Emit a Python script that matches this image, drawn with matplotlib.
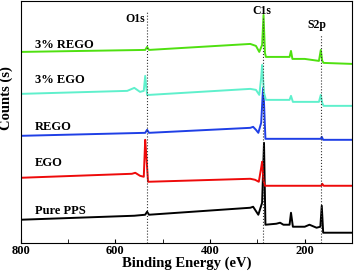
import matplotlib
matplotlib.use('Agg')
import matplotlib.pyplot as plt

plt.rcParams['font.family'] = ['Liberation Serif', 'DejaVu Serif']
plt.rcParams['font.weight'] = 'bold'

# survey spectra (energy in eV, counts in arbitrary offset units)
pps_e = [800, 560, 537, 533, 529, 315, 309, 298, 290, 286, 283, 260, 252, 245, 232, 229, 225, 200, 190, 175, 167, 164, 161, 100]
pps_c = [23, 27, 28, 31, 28, 35, 36, 28, 40, 100, 18, 19, 20, 18, 18, 30, 16, 16, 18, 15, 16, 37, 10, 10]

ego_e = [800, 565, 558, 548, 540, 537, 535, 531, 315, 305, 297, 292, 290, 287, 284, 200, 165, 163, 160, 100]
ego_c = [65, 69, 70, 67, 66, 103, 90, 61, 64, 63, 61, 75, 81, 62, 57, 57, 57, 59, 57, 57]

rego_e = [800, 537, 533, 529, 315, 309, 303, 298, 292, 288, 286, 283, 200, 166, 164, 161, 100]
rego_c = [107, 110, 113, 110, 115, 116, 113, 110, 120, 155, 140, 104, 104, 104, 106, 103, 103]

ego3_e = [800, 575, 560, 548, 540, 537, 533, 528, 315, 303, 296, 292, 290, 286, 282, 232, 229, 225, 170, 166, 163, 160, 100]
ego3_c = [149, 152, 155, 151, 152, 167, 148, 148, 154, 153, 148, 165, 178, 150, 143, 143, 147, 141, 141, 148, 140, 137, 137]

rego3_e = [800, 537, 533, 529, 315, 303, 296, 290, 287, 284, 282, 250, 232, 229, 226, 200, 185, 170, 166, 163, 160, 100]
rego3_c = [191, 193, 196, 193, 199, 197, 191, 198, 228, 190, 186, 186, 186, 192, 184, 184, 183, 182, 193, 182, 180, 179]

labels = ['Pure PPS', 'EGO', 'REGO', '3% EGO', '3% REGO']
label_c = [32, 80, 116, 163, 198]
colors = ['black', '#ee0a0a', '#1f3fe6', '#5ff0cc', '#4fe010']

peak_names = ['O1s', 'C1s', 'S2p']
peak_e = [533, 288, 165]

fig = plt.figure(figsize=(3.54, 2.71), dpi=100)
ax = fig.add_axes([0.0585, 0.1044, 0.936, 0.892])

series = [(pps_e, pps_c), (ego_e, ego_c), (rego_e, rego_c), (ego3_e, ego3_c), (rego3_e, rego3_c)]
for (e, c), col in zip(series, colors):
    ax.plot(e, c, color=col, lw=1.4)

for name, c in zip(labels, label_c):
    ax.text(770, c, name, fontsize=9, fontweight='bold', va='center', ha='left')

# dotted peak markers
line_top = [231, 226, 208]
text_pos = [(558, 224), (290, 232), (174, 218)]
for name, e, top, (tx, ty) in zip(peak_names, peak_e, line_top, text_pos):
    ax.plot([e, e], [0, top], ls=':', color='#333333', lw=0.8)
    ax.text(tx, ty, name, fontsize=8.5, fontweight='bold', ha='center', va='center')

ax.set_xlim(800, 100)
ax.set_ylim(0, 242)
ax.set_xticks([800, 600, 400, 200])
ax.set_xticks([700, 500, 300], minor=True)
ax.set_yticks([])
ax.tick_params(axis='x', which='both', direction='in', length=3, labelsize=9, pad=2)
for lab in ax.get_xticklabels():
    lab.set_fontweight('bold')
ax.set_xlabel('Binding Energy (eV)', fontsize=10.5, fontweight='bold', labelpad=-1)
ax.set_ylabel('Counts (s)', fontsize=10.5, fontweight='bold')
ax.yaxis.set_label_coords(-0.022, 0.6)

plt.savefig('out.png', dpi=100)
